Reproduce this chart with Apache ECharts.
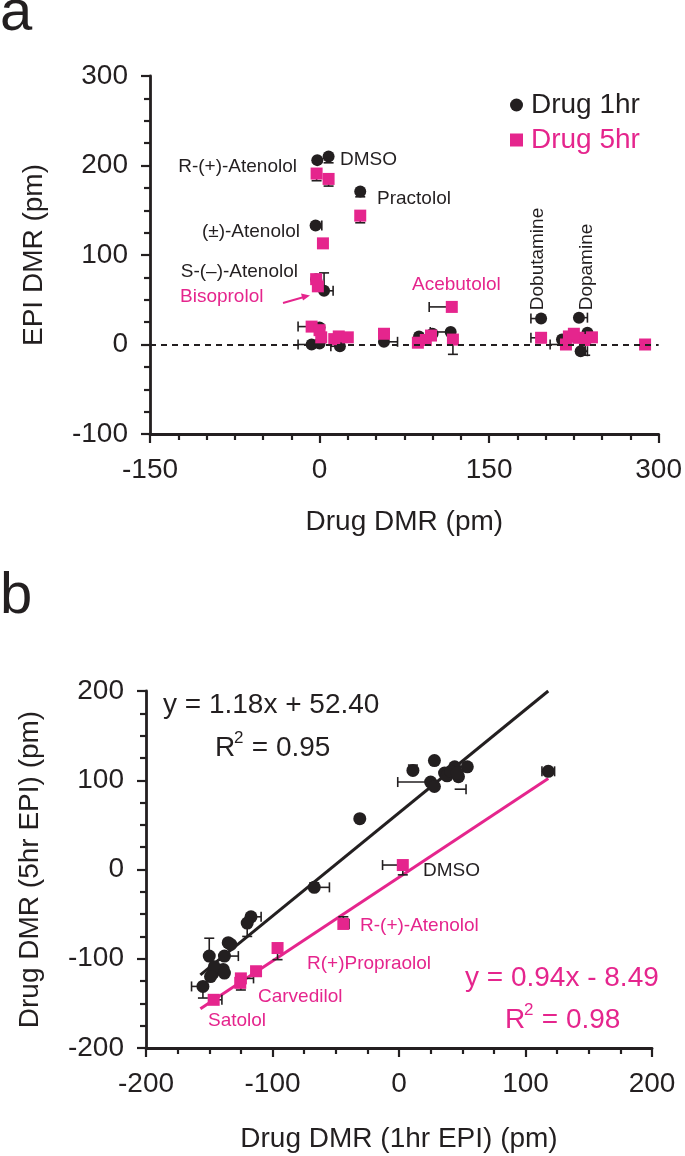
<!DOCTYPE html>
<html>
<head>
<meta charset="utf-8">
<title>EPI DMR</title>
<script src="https://cdn.jsdelivr.net/npm/echarts@6.0.0/dist/echarts.min.js"></script>
<style>
  html, body { margin: 0; padding: 0; background: #fff; }
  #chart { width: 685px; height: 1156px; }
</style>
</head>
<body>
<div id="chart"></div>
<script>
// ---- panel a: Drug DMR vs EPI DMR ----
var aDrug1hr = [[-2,206],[8,210],[36,171],[-3.5,133],[-3,73],[4,60],[-7,0],[0,19],[0,1],[18,-2],[57,3],
  [88,9],[116,14],[196,29],[229.5,30],[231,-7.5],[237,13],[214.5,5.6],[225,10],[100,12]];
var aDrug5hr = [[-2.6,191],[8,185],[36,144],[3,113],[-3,73],[-1.5,65],[-7,20],[0,16],[1.5,8],[13,6],[17,9],
  [25,8],[57,12],[87,2],[98.6,10],[94,5],[118,5.5],[117,42],[196,7.5],[220.6,9],[229,7.5],[241,8],[218,0],
  [225,12],[235,5],[288,0]];
// error bars: [x, y, xlow, xhigh, ylow, yhigh]
var aErr1hr = [[8,210,8,8,203,210],[36,171,36,36,165,171],[-3.5,133,-3.5,2,133,133],[4,60,4,12,60,80],
  [-7,0,-19,-7,0,0],[57,3,57,69,3,3],[116,14,98,116,14,14],[196,29,187,196,29,29],[229.5,30,229.5,237,30,30],
  [231,-7.5,231,237,-7.5,-7.5],[18,-2,10,18,-2,-2]];
var aErr5hr = [[-7,20,-19,-7,20,20],[118,5.5,118,118,-11,5.5],[117,42,97,117,42,42],[196,7.5,187,196,7.5,7.5],
  [218,0,204,218,0,0],[235,5,235,235,-12,5],[-2.6,191,-2.6,-2.6,183,191],[8,185,8,8,177,185],[36,144,36,36,136,144]];

// ---- panel b: 1hr EPI vs 5hr EPI ----
var bBlack = [[-67,-20],[-117,-53],[-120,-60],[-135,-82],[-133,-84],[-138,-97],[-150,-97],[-147,-116],
  [-139,-112],[-146,-109],[-138,-116],[-155,-131],[-149,-120],[-31,57],[11,111],[28,122],[25,98],[28,93],
  [36,108],[44,115],[38,105],[47,104],[54,115],[41,110],[46,108],[118,110]];
var bPink = [[-96,-88],[-113,-114],[-125,-122],[-125.5,-127],[-146.5,-146],[3,5],[-44,-61]];
var bErrBlack = [[-67,-20,-67,-55,-20,-15],[-117,-53,-117,-109,-53,-53],[-120,-60,-120,-120,-75,-60],
  [-138,-97,-138,-127,-97,-97],[-150,-97,-150,-150,-97,-77],[-155,-131,-164,-155,-144,-131],
  [11,111,11,11,111,117],[25,98,-1,25,98,98],[44,90,44,53,90,90],[118,110,113,123,110,110]];
var bErrPink = [[-96,-88,-96,-96,-101,-88],[-125,-122,-125,-115,-135,-122],[-146.5,-146,-146.5,-140,-146,-146],
  [3,5,-13,3,-6,5],[-44,-61,-44,-39.5,-61,-53]];
// fitted lines as drawn in the figure (end points)
var bFitBlack = [[-157,-118],[118,200]];
var bFitPink = [[-157,-156],[118,102]];

var BLACK = '#231f20';
var PINK = '#e5258d';
var FONT = '"Liberation Sans", Arial, sans-serif';

function errBar(params, api) {
  var x = api.value(0), y = api.value(1);
  var x0 = api.value(2), x1 = api.value(3), y0 = api.value(4), y1 = api.value(5);
  var col = api.visual('color');
  var st = { stroke: col, lineWidth: 1.6 };
  var kids = [];
  var cap = 5;
  if (x0 !== x1) {
    var a = api.coord([x0, y]), b = api.coord([x1, y]);
    kids.push({ type: 'line', shape: { x1: a[0], y1: a[1], x2: b[0], y2: b[1] }, style: st });
    if (x0 < x) kids.push({ type: 'line', shape: { x1: a[0], y1: a[1] - cap, x2: a[0], y2: a[1] + cap }, style: st });
    if (x1 > x) kids.push({ type: 'line', shape: { x1: b[0], y1: b[1] - cap, x2: b[0], y2: b[1] + cap }, style: st });
  }
  if (y0 !== y1) {
    var c = api.coord([x, y0]), d = api.coord([x, y1]);
    kids.push({ type: 'line', shape: { x1: c[0], y1: c[1], x2: d[0], y2: d[1] }, style: st });
    if (y0 < y) kids.push({ type: 'line', shape: { x1: c[0] - cap, y1: c[1], x2: c[0] + cap, y2: c[1] }, style: st });
    if (y1 > y) kids.push({ type: 'line', shape: { x1: d[0] - cap, y1: d[1], x2: d[0] + cap, y2: d[1] }, style: st });
  }
  return { type: 'group', children: kids };
}

function axisX(idx, min, max, interval, split, name, gap) {
  return {
    gridIndex: idx, type: 'value', min: min, max: max, interval: interval,
    name: name, nameLocation: 'middle', nameGap: gap,
    nameTextStyle: { fontSize: 28, color: BLACK, fontFamily: FONT },
    axisLine: { onZero: false, lineStyle: { color: BLACK, width: 2.8 } },
    axisTick: { length: 9, lineStyle: { width: 2.2, color: BLACK } },
    minorTick: { show: true, splitNumber: split, length: 6, lineStyle: { width: 2.2, color: BLACK } },
    axisLabel: { fontSize: 28, color: BLACK, fontFamily: FONT, margin: 22 },
    splitLine: { show: false }
  };
}
function axisY(idx, min, max, interval, split, name, gap) {
  var o = axisX(idx, min, max, interval, split, name, gap);
  o.axisLabel.margin = 22;
  return o;
}

var chart = echarts.init(document.getElementById('chart'));
var option = {
  animation: false,
  backgroundColor: '#fff',
  grid: [
    { left: 150, top: 76, width: 510, height: 358 },
    { left: 146, top: 691, width: 506, height: 357 }
  ],
  xAxis: [
    axisX(0, -150, 300, 150, 6, 'Drug DMR (pm)', 74),
    axisX(1, -200, 200, 100, 4, 'Drug DMR (1hr EPI) (pm)', 77)
  ],
  yAxis: [
    axisY(0, -100, 300, 100, 4, 'EPI DMR (pm)', 102),
    axisY(1, -200, 200, 100, 4, 'Drug DMR (5hr EPI) (pm)', 102)
  ],
  legend: {
    orient: 'vertical', left: 505, top: 86, itemGap: 7, itemWidth: 13, itemHeight: 13,
    textStyle: { fontSize: 28, fontFamily: FONT, padding: [0, 0, 0, 3] },
    data: [
      { name: 'Drug 1hr', icon: 'circle', textStyle: { color: BLACK } },
      { name: 'Drug 5hr', icon: 'rect', textStyle: { color: PINK } }
    ]
  },
  series: [
    { type: 'custom', name: 'err1', xAxisIndex: 0, yAxisIndex: 0, renderItem: errBar, data: aErr1hr,
      itemStyle: { color: BLACK }, z: 2 },
    { type: 'custom', name: 'err5', xAxisIndex: 0, yAxisIndex: 0, renderItem: errBar, data: aErr5hr,
      itemStyle: { color: BLACK }, z: 2 },
    { type: 'scatter', name: 'Drug 1hr', xAxisIndex: 0, yAxisIndex: 0, data: aDrug1hr, symbol: 'circle',
      symbolSize: 12, itemStyle: { color: BLACK, opacity: 1 }, z: 3,
      markLine: { silent: true, symbol: 'none', label: { show: false },
        lineStyle: { type: [6, 5], color: BLACK, width: 1.8 }, data: [{ yAxis: 0 }] } },
    { type: 'scatter', name: 'Drug 5hr', xAxisIndex: 0, yAxisIndex: 0, data: aDrug5hr, symbol: 'rect',
      symbolSize: 12, itemStyle: { color: PINK, opacity: 1 }, z: 4 },

    { type: 'line', name: 'fit1', xAxisIndex: 1, yAxisIndex: 1, data: bFitBlack, showSymbol: false,
      lineStyle: { color: BLACK, width: 3 }, z: 2 },
    { type: 'line', name: 'fit5', xAxisIndex: 1, yAxisIndex: 1, data: bFitPink, showSymbol: false,
      lineStyle: { color: PINK, width: 3 }, z: 2 },
    { type: 'custom', name: 'errb1', xAxisIndex: 1, yAxisIndex: 1, renderItem: errBar, data: bErrBlack,
      itemStyle: { color: BLACK }, z: 3 },
    { type: 'custom', name: 'errb5', xAxisIndex: 1, yAxisIndex: 1, renderItem: errBar, data: bErrPink,
      itemStyle: { color: BLACK }, z: 3 },
    { type: 'scatter', name: '1hr b', xAxisIndex: 1, yAxisIndex: 1, data: bBlack, symbol: 'circle',
      symbolSize: 13, itemStyle: { color: BLACK, opacity: 1 }, z: 4 },
    { type: 'scatter', name: '5hr b', xAxisIndex: 1, yAxisIndex: 1, data: bPink, symbol: 'rect',
      symbolSize: 12, itemStyle: { color: PINK, opacity: 1 }, z: 5 }
  ],
  graphic: [
    { type: 'text', x: 0, y: -15, style: { text: 'a', fontSize: 58, fill: BLACK, fontFamily: FONT } },
    { type: 'text', x: 0, y: 568, style: { text: 'b', fontSize: 58, fill: BLACK, fontFamily: FONT } },
    // panel a annotations
    { type: 'text', x: 297, y: 167, style: { text: 'R-(+)-Atenolol', fontSize: 19, fill: BLACK, fontFamily: FONT, align: 'right', verticalAlign: 'middle' } },
    { type: 'text', x: 340, y: 160, style: { text: 'DMSO', fontSize: 19, fill: BLACK, fontFamily: FONT, verticalAlign: 'middle' } },
    { type: 'text', x: 377, y: 199, style: { text: 'Practolol', fontSize: 19, fill: BLACK, fontFamily: FONT, verticalAlign: 'middle' } },
    { type: 'text', x: 300, y: 232, style: { text: '(\u00b1)-Atenolol', fontSize: 19, fill: BLACK, fontFamily: FONT, align: 'right', verticalAlign: 'middle' } },
    { type: 'text', x: 298, y: 272, style: { text: 'S-(\u2013)-Atenolol', fontSize: 19, fill: BLACK, fontFamily: FONT, align: 'right', verticalAlign: 'middle' } },
    { type: 'text', x: 180, y: 297, style: { text: 'Bisoprolol', fontSize: 19, fill: PINK, fontFamily: FONT, verticalAlign: 'middle' } },
    { type: 'line', shape: { x1: 283, y1: 303, x2: 304, y2: 297 }, style: { stroke: PINK, lineWidth: 2 } },
    { type: 'polygon', shape: { points: [[310, 295.5], [301, 293.5], [303, 300.5]] }, style: { fill: PINK } },
    { type: 'text', x: 412, y: 285, style: { text: 'Acebutolol', fontSize: 19, fill: PINK, fontFamily: FONT, verticalAlign: 'middle' } },
    { type: 'text', x: 538, y: 259, rotation: Math.PI / 2, style: { text: 'Dobutamine', fontSize: 19, fill: BLACK, fontFamily: FONT, align: 'center', verticalAlign: 'middle' } },
    { type: 'text', x: 587, y: 267, rotation: Math.PI / 2, style: { text: 'Dopamine', fontSize: 19, fill: BLACK, fontFamily: FONT, align: 'center', verticalAlign: 'middle' } },
    // panel b annotations
    { type: 'text', x: 163, y: 705, style: { text: 'y = 1.18x + 52.40', fontSize: 28, fill: BLACK, fontFamily: FONT, verticalAlign: 'middle' } },
    { type: 'text', x: 215, y: 748, style: { text: 'R', fontSize: 28, fill: BLACK, fontFamily: FONT, verticalAlign: 'middle' } },
    { type: 'text', x: 234, y: 738, style: { text: '2', fontSize: 17, fill: BLACK, fontFamily: FONT, verticalAlign: 'middle' } },
    { type: 'text', x: 244, y: 748, style: { text: ' = 0.95', fontSize: 28, fill: BLACK, fontFamily: FONT, verticalAlign: 'middle' } },
    { type: 'text', x: 423, y: 871, style: { text: 'DMSO', fontSize: 19, fill: BLACK, fontFamily: FONT, verticalAlign: 'middle' } },
    { type: 'text', x: 360, y: 926, style: { text: 'R-(+)-Atenolol', fontSize: 19, fill: PINK, fontFamily: FONT, verticalAlign: 'middle' } },
    { type: 'text', x: 307, y: 964, style: { text: 'R(+)Propraolol', fontSize: 19, fill: PINK, fontFamily: FONT, verticalAlign: 'middle' } },
    { type: 'text', x: 258, y: 997, style: { text: 'Carvedilol', fontSize: 19, fill: PINK, fontFamily: FONT, verticalAlign: 'middle' } },
    { type: 'text', x: 208, y: 1021, style: { text: 'Satolol', fontSize: 19, fill: PINK, fontFamily: FONT, verticalAlign: 'middle' } },
    { type: 'text', x: 465, y: 978, style: { text: 'y = 0.94x - 8.49', fontSize: 28, fill: PINK, fontFamily: FONT, verticalAlign: 'middle' } },
    { type: 'text', x: 505, y: 1020, style: { text: 'R', fontSize: 28, fill: PINK, fontFamily: FONT, verticalAlign: 'middle' } },
    { type: 'text', x: 524, y: 1010, style: { text: '2', fontSize: 17, fill: PINK, fontFamily: FONT, verticalAlign: 'middle' } },
    { type: 'text', x: 534, y: 1020, style: { text: ' = 0.98', fontSize: 28, fill: PINK, fontFamily: FONT, verticalAlign: 'middle' } }
  ]
};
chart.setOption(option);
</script>
</body>
</html>
